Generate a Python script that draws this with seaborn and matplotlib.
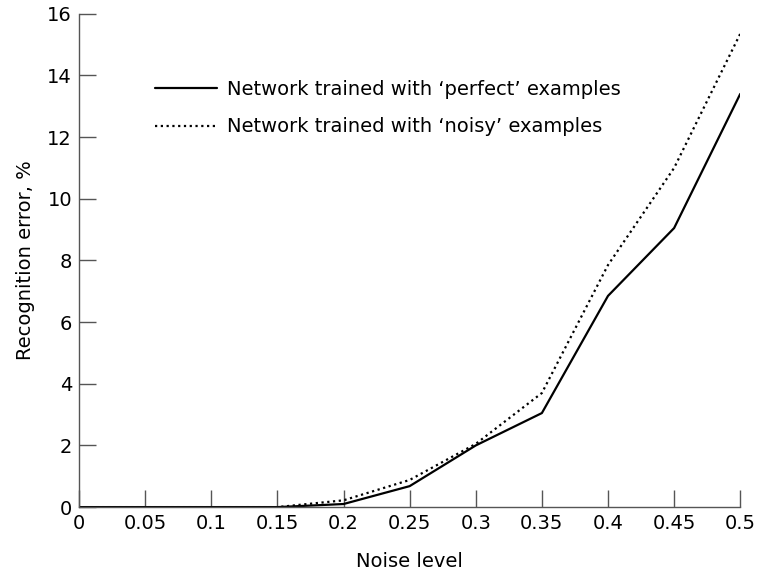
import matplotlib

matplotlib.use("Agg")
import matplotlib.pyplot as plt
import pandas as pd
import seaborn as sns

noise = [0, 0.05, 0.1, 0.15, 0.2, 0.25, 0.3, 0.35, 0.4, 0.45, 0.5]
err_perfect = [0, 0, 0, 0, 0.1, 0.68, 2.0, 3.05, 6.85, 9.05, 13.4]
err_noisy = [0, 0, 0, 0, 0.22, 0.88, 2.05, 3.7, 7.85, 11.0, 15.35]
labels = ["Network trained with \u2018perfect\u2019 examples",
          "Network trained with \u2018noisy\u2019 examples"]
xticks = [0, 0.05, 0.1, 0.15, 0.2, 0.25, 0.3, 0.35, 0.4, 0.45, 0.5]
xtick_labels = ["0", "0.05", "0.1", "0.15", "0.2", "0.25", "0.3", "0.35", "0.4", "0.45", "0.5"]
yticks = [0, 2, 4, 6, 8, 10, 12, 14, 16]

df = pd.concat([
    pd.DataFrame({"noise": noise, "error": err_perfect, "series": labels[0]}),
    pd.DataFrame({"noise": noise, "error": err_noisy, "series": labels[1]}),
])

sns.set_style("white")
plt.rcParams["font.family"] = ["DejaVu Sans"]
plt.rcParams["text.color"] = "black"
plt.rcParams["axes.labelcolor"] = "black"

fig = plt.figure(figsize=(7.6, 5.73), dpi=100)
ax = fig.add_axes([0.104, 0.115, 0.870, 0.861])

sns.lineplot(
    data=df, x="noise", y="error", hue="series", style="series",
    palette=["black", "black"], dashes=[(None, None), (1, 1.6)],
    linewidth=1.6, ax=ax, legend=True,
)

ax.set_xlim(0, 0.5)
ax.set_ylim(0, 16)
ax.set_xticks(xticks)
ax.set_xticklabels(xtick_labels)
ax.set_yticks(yticks)
ax.tick_params(direction="in", length=12, width=1, color="#555555",
               labelcolor="black", labelsize=14, pad=5, bottom=True, left=True)
for side in ["top", "right"]:
    ax.spines[side].set_visible(False)
for side in ["left", "bottom"]:
    ax.spines[side].set_color("#555555")
    ax.spines[side].set_linewidth(1)

ax.set_xlabel("Noise level", fontsize=14, labelpad=14)
ax.set_ylabel("Recognition error, %", fontsize=14, labelpad=9)

leg = ax.legend(frameon=False, loc="upper left", bbox_to_anchor=(0.115, 0.866),
                borderaxespad=0, borderpad=0, fontsize=14, handlelength=3.2,
                handletextpad=0.5, labelspacing=0.95)
for h in leg.get_lines():
    h.set_linewidth(1.6)

fig.savefig("out.png", dpi=100)
